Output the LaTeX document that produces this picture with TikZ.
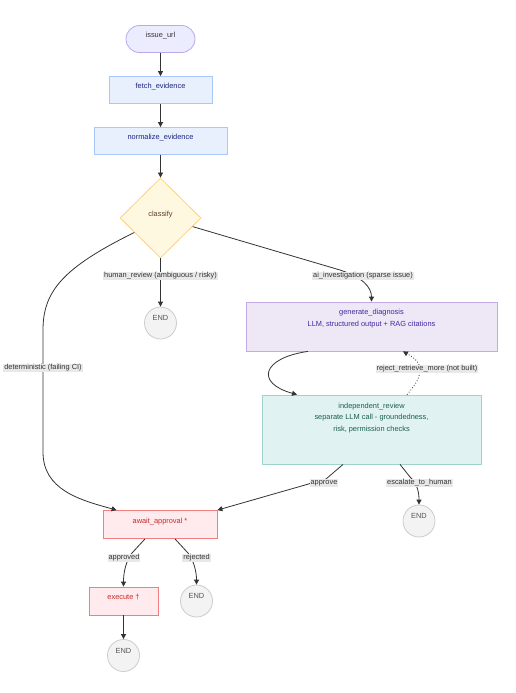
\documentclass[tikz,border=0pt]{standalone}
\usepackage{fontspec}
\setmainfont{Liberation Sans}
\usetikzlibrary{shapes.geometric,arrows.meta}
\definecolor{edgecol}{HTML}{333333}
\definecolor{lblbg}{HTML}{E8E8E8}
\definecolor{startfill}{HTML}{ECECFF}
\definecolor{startline}{HTML}{B9A8EE}
\definecolor{startext}{HTML}{333333}
\definecolor{bluefill}{HTML}{E8F0FE}
\definecolor{blueline}{HTML}{A8C7FA}
\definecolor{bluetext}{HTML}{1A237E}
\definecolor{yelfill}{HTML}{FFF8E1}
\definecolor{yelline}{HTML}{FFD180}
\definecolor{yeltext}{HTML}{5D4037}
\definecolor{purfill}{HTML}{EDE7F6}
\definecolor{purline}{HTML}{C3A9E6}
\definecolor{purtext}{HTML}{4527A0}
\definecolor{tealfill}{HTML}{E0F2F1}
\definecolor{tealline}{HTML}{9FD3CC}
\definecolor{tealtext}{HTML}{1B5E4F}
\definecolor{redfill}{HTML}{FFEBEE}
\definecolor{redline}{HTML}{F08080}
\definecolor{redtext}{HTML}{C62828}
\definecolor{endfill}{HTML}{F3F3F3}
\definecolor{endline}{HTML}{CCCCCC}
\definecolor{endtext}{HTML}{555555}
\tikzset{
  raised/.style={execute at end node={\rule[-8pt]{0pt}{8pt}}},
  box/.style={rectangle, draw, line width=0.8pt, inner sep=0pt, minimum height=27pt, raised},
  startbox/.style={box, rounded corners=13.5pt, fill=startfill, draw=startline, text=startext, minimum width=69pt},
  bluebox/.style={box, fill=bluefill, draw=blueline, text=bluetext},
  redbox/.style={box, fill=redfill, draw=redline, text=redtext, minimum height=28pt},
  purbox/.style={rectangle, draw=purline, fill=purfill, line width=0.8pt, inner sep=0pt},
  tealbox/.style={rectangle, draw=tealline, fill=tealfill, line width=0.8pt, inner sep=0pt},
  decide/.style={diamond, draw=yelline, fill=yelfill, text=yeltext, line width=0.8pt, inner sep=0pt, minimum width=81pt, minimum height=80pt, raised},
  endn/.style={circle, draw=endline, fill=endfill, text=endtext, line width=0.8pt, minimum size=32pt, inner sep=0pt, execute at end node={\rule[-10pt]{0pt}{10pt}}},
  lbl/.style={fill=lblbg, inner sep=1pt, text=black!80},
  conn/.style={draw=edgecol, line width=0.8pt, -{Triangle[length=5pt,width=5pt]}},
  dotconn/.style={conn, dotted},
}
\begin{document}
\begin{tikzpicture}[x=1pt,y=-1pt, font=\fontsize{7.4}{11.5}\selectfont]
\useasboundingbox[fill=white] (0,0) rectangle (516,693);
% nodes
\node[startbox] (issue) at (160.5,39) {issue\_url};
\node[bluebox, minimum width=103pt] (fetch) at (160.5,90) {fetch\_evidence};
\node[bluebox, minimum width=133pt] (norm) at (160.5,141) {normalize\_evidence};
\node[decide] (classify) at (160.5,218) {classify};
\node[endn] (end1) at (160.5,323) {END};
\node[purbox, minimum width=251pt, minimum height=49pt] (gen) at (371.5,326.5) {};
\node[text=purtext, align=center, anchor=north, inner sep=0pt] (gentext) at (371.5,309) {generate\_diagnosis\\LLM, structured output + RAG citations};
\node[tealbox, minimum width=219pt, minimum height=69pt] (indep) at (371.5,429.5) {};
\node[text=tealtext, align=center, anchor=north, inner sep=0pt] (indeptext) at (371.5,402.5) {independent\_review\\separate LLM call - groundedness,\\risk, permission checks};
\node[endn] (end2) at (419,521) {END};
\node[redbox, minimum width=114pt] (await) at (160,524.5) {await\_approval *};
\node[redbox, minimum width=69pt] (exec) at (123.5,601) {execute †};
\node[endn] (end3) at (196.5,601) {END};
\node[endn] (end4) at (123.5,655.5) {END};
% connectors
\draw[conn] (issue) -- (fetch);
\draw[conn] (fetch) -- (norm);
\draw[conn] (norm) -- (classify);
\draw[conn] (classify.south) -- (end1.north);
\draw[conn] (classify.345) -- (340,270) .. controls (362,277) and (371.5,287) .. (gen.north);
\draw[conn] (classify.209) .. controls (62,268) and (43,292) .. (43,330) -- (43,452) .. controls (43,490) and (80,500) .. ([xshift=14pt]await.north west);
\draw[conn] ([xshift=-63.5pt]gen.south) .. controls (262,358) and (255,383) .. ([xshift=-74.5pt]indep.north);
\draw[dotconn] ([xshift=35.5pt]indep.north) .. controls (417,383) and (420,377) .. (420,369) .. controls (420,361) and (411,356) .. ([xshift=31.5pt]gen.south);
\draw[conn] ([xshift=-28.5pt]indep.south) -- (326,479) -- (await.north east);
\draw[conn] ([xshift=28.5pt]indep.south) -- (410,477) .. controls (418,484) and (419,494) .. (end2.north);
\draw[conn] ([xshift=-15pt]await.south) -- (132,553) .. controls (126,561) and (123.5,572) .. (exec.north);
\draw[conn] ([xshift=15pt]await.south) -- (188,553) .. controls (194,561) and (196.5,572) .. (end3.north);
\draw[conn] (exec) -- (end4);
% labels
\node[lbl] (l1) at (160.5,276) {human\_review (ambiguous / risky)};
\node[lbl] (l2) at (363,276) {ai\_investigation (sparse issue)};
\node[lbl] (l3) at (43,368) {deterministic (failing CI)};
\node[lbl] (l4) at (427,369) {reject\_retrieve\_more (not built)};
\node[lbl] (l5) at (324,483) {approve};
\node[lbl] (l6) at (419.5,483) {escalate\_to\_human};
\node[lbl] (l7) at (124,558) {approved};
\node[lbl] (l8) at (196.5,558) {rejected};
\end{tikzpicture}
\end{document}
